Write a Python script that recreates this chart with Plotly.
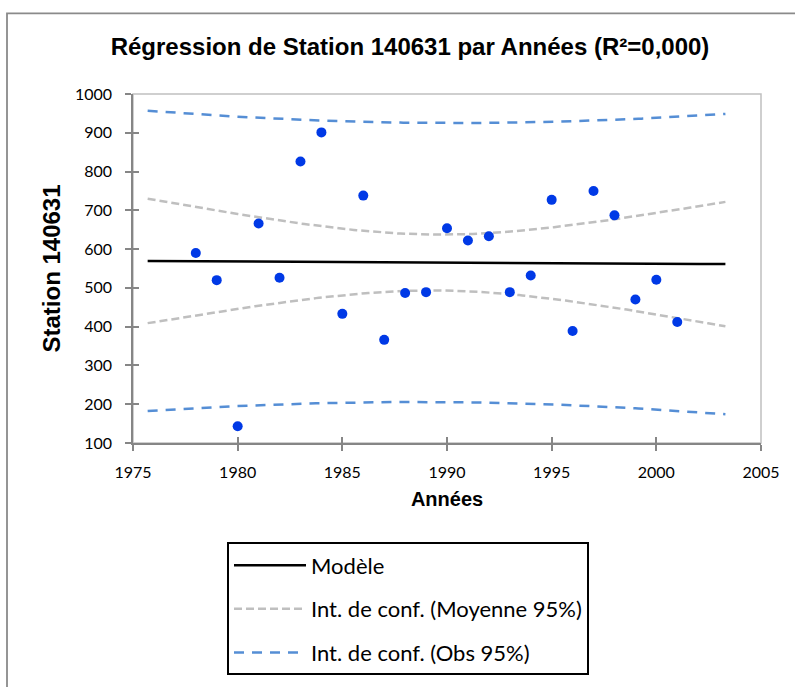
import numpy as np
import plotly.graph_objects as go

# Observations: annual values at station 140631
years = [1978, 1979, 1980, 1981, 1982, 1983, 1984, 1985, 1986, 1987, 1988, 1989,
         1990, 1991, 1992, 1993, 1994, 1995, 1996, 1997, 1998, 1999, 2000, 2001]
station = [590, 520, 143, 666, 526, 826, 901, 433, 738, 366, 487, 489,
           654, 622, 633, 489, 532, 727, 389, 750, 687, 470, 521, 412]

x_ticks = [1975, 1980, 1985, 1990, 1995, 2000, 2005]
y_ticks = [100, 200, 300, 400, 500, 600, 700, 800, 900, 1000]

title_text = "Régression de Station 140631 par Années (R²=0,000)"
legend_labels = ["Modèle", "Int. de conf. (Moyenne 95%)", "Int. de conf. (Obs 95%)"]

# Ordinary least squares fit with 95% confidence bands
x = np.array(years, dtype=float)
y = np.array(station, dtype=float)
n = len(x)
slope, intercept = np.polyfit(x, y, 1)
resid = y - (intercept + slope * x)
s = np.sqrt(np.sum(resid ** 2) / (n - 2))
t_crit = 2.0739  # Student t, 97.5% quantile, 22 degrees of freedom
xbar = x.mean()
sxx = np.sum((x - xbar) ** 2)

xg = np.linspace(x.min() - 2.3, x.max() + 2.3, 200)
fit = intercept + slope * xg
half_mean = t_crit * s * np.sqrt(1.0 / n + (xg - xbar) ** 2 / sxx)
half_obs = t_crit * s * np.sqrt(1.0 + 1.0 / n + (xg - xbar) ** 2 / sxx)

BLUE_PT = "#0039E6"
GREY_CI = "#BFBFBF"
BLUE_CI = "#558ED5"

fig = go.Figure()

fig.add_trace(go.Scatter(x=xg, y=fit, mode="lines", name=legend_labels[0],
                         legendgroup="model",
                         line=dict(color="black", width=2.5)))
fig.add_trace(go.Scatter(x=xg, y=fit + half_mean, mode="lines", name=legend_labels[1],
                         legendgroup="mean",
                         line=dict(color=GREY_CI, width=2.5, dash="8px,4px")))
fig.add_trace(go.Scatter(x=xg, y=fit - half_mean, mode="lines", name=legend_labels[1],
                         legendgroup="mean", showlegend=False,
                         line=dict(color=GREY_CI, width=2.5, dash="8px,4px")))
fig.add_trace(go.Scatter(x=xg, y=fit + half_obs, mode="lines", name=legend_labels[2],
                         legendgroup="obs",
                         line=dict(color=BLUE_CI, width=2.5, dash="10px,8px")))
fig.add_trace(go.Scatter(x=xg, y=fit - half_obs, mode="lines", name=legend_labels[2],
                         legendgroup="obs", showlegend=False,
                         line=dict(color=BLUE_CI, width=2.5, dash="10px,8px")))
fig.add_trace(go.Scatter(x=years, y=station, mode="markers", name="Station 140631",
                         showlegend=False,
                         marker=dict(color=BLUE_PT, size=10, line=dict(width=0))))
# empty trace that carries the inner half of the crossing tick marks
fig.add_trace(go.Scatter(x=[], y=[], xaxis="x2", yaxis="y2", showlegend=False,
                         hoverinfo="skip"))

AXIS_GREY = "#868686"
tick_font = dict(family="Lato", size=16, color="black")

fig.update_layout(
    width=795, height=687,
    margin=dict(l=133, r=34, t=94, b=242),
    paper_bgcolor="white", plot_bgcolor="white",
    showlegend=True,
    title=dict(text=title_text, x=410 / 795, xref="container", xanchor="center",
               y=1 - 47 / 687, yref="container", yanchor="middle",
               font=dict(family="Liberation Sans", size=24, color="black",
                         weight="bold")),
    xaxis=dict(range=[1975, 2005], tickvals=x_ticks, showgrid=False, zeroline=False,
               showline=True, linecolor=AXIS_GREY, linewidth=1.5,
               ticks="outside", ticklen=6, tickwidth=1.5, tickcolor=AXIS_GREY,
               tickfont=tick_font, ticklabelstandoff=8,
               title=dict(text="Années", standoff=12,
                          font=dict(family="Liberation Sans", size=20,
                                    color="black", weight="bold"))),
    yaxis=dict(range=[100, 1000], tickvals=y_ticks, showgrid=False, zeroline=False,
               showline=True, linecolor=AXIS_GREY, linewidth=1.5,
               ticks="outside", ticklen=6, tickwidth=1.5, tickcolor=AXIS_GREY,
               tickfont=tick_font, ticklabelstandoff=10,
               title=dict(text="Station 140631", standoff=8,
                          font=dict(family="Liberation Sans", size=24,
                                    color="black", weight="bold"))),
    xaxis2=dict(range=[1975, 2005], tickvals=x_ticks, overlaying="x", anchor="y2",
                side="bottom", showgrid=False, zeroline=False, showline=False,
                ticks="inside", ticklen=6, tickwidth=1.5, tickcolor=AXIS_GREY,
                showticklabels=False),
    yaxis2=dict(range=[100, 1000], tickvals=y_ticks, overlaying="y", anchor="x2",
                side="left", showgrid=False, zeroline=False, showline=False,
                ticks="inside", ticklen=6, tickwidth=1.5, tickcolor=AXIS_GREY,
                showticklabels=False),
    legend=dict(x=(227 - 133) / 628, y=(445 - 545) / 351, xanchor="left", yanchor="top",
                bordercolor="black", borderwidth=2, bgcolor="white",
                font=dict(family="Lato", size=22, color="black"),
                tracegroupgap=12, itemwidth=72, traceorder="grouped"),
    shapes=[
        # light frame around the plotting area
        dict(type="rect", xref="paper", yref="paper", x0=0, x1=1, y0=0, y1=1,
             line=dict(color="#C0C0C0", width=1.5), layer="below"),
        # outer chart border
        dict(type="rect", xref="paper", yref="paper",
             x0=(7 - 133) / 628, x1=(810 - 133) / 628,
             y0=(445 - 720) / 351, y1=(445 - 13) / 351,
             line=dict(color="#8A8A8A", width=1.8), layer="below"),
    ],
)

fig.write_html("out.html")
